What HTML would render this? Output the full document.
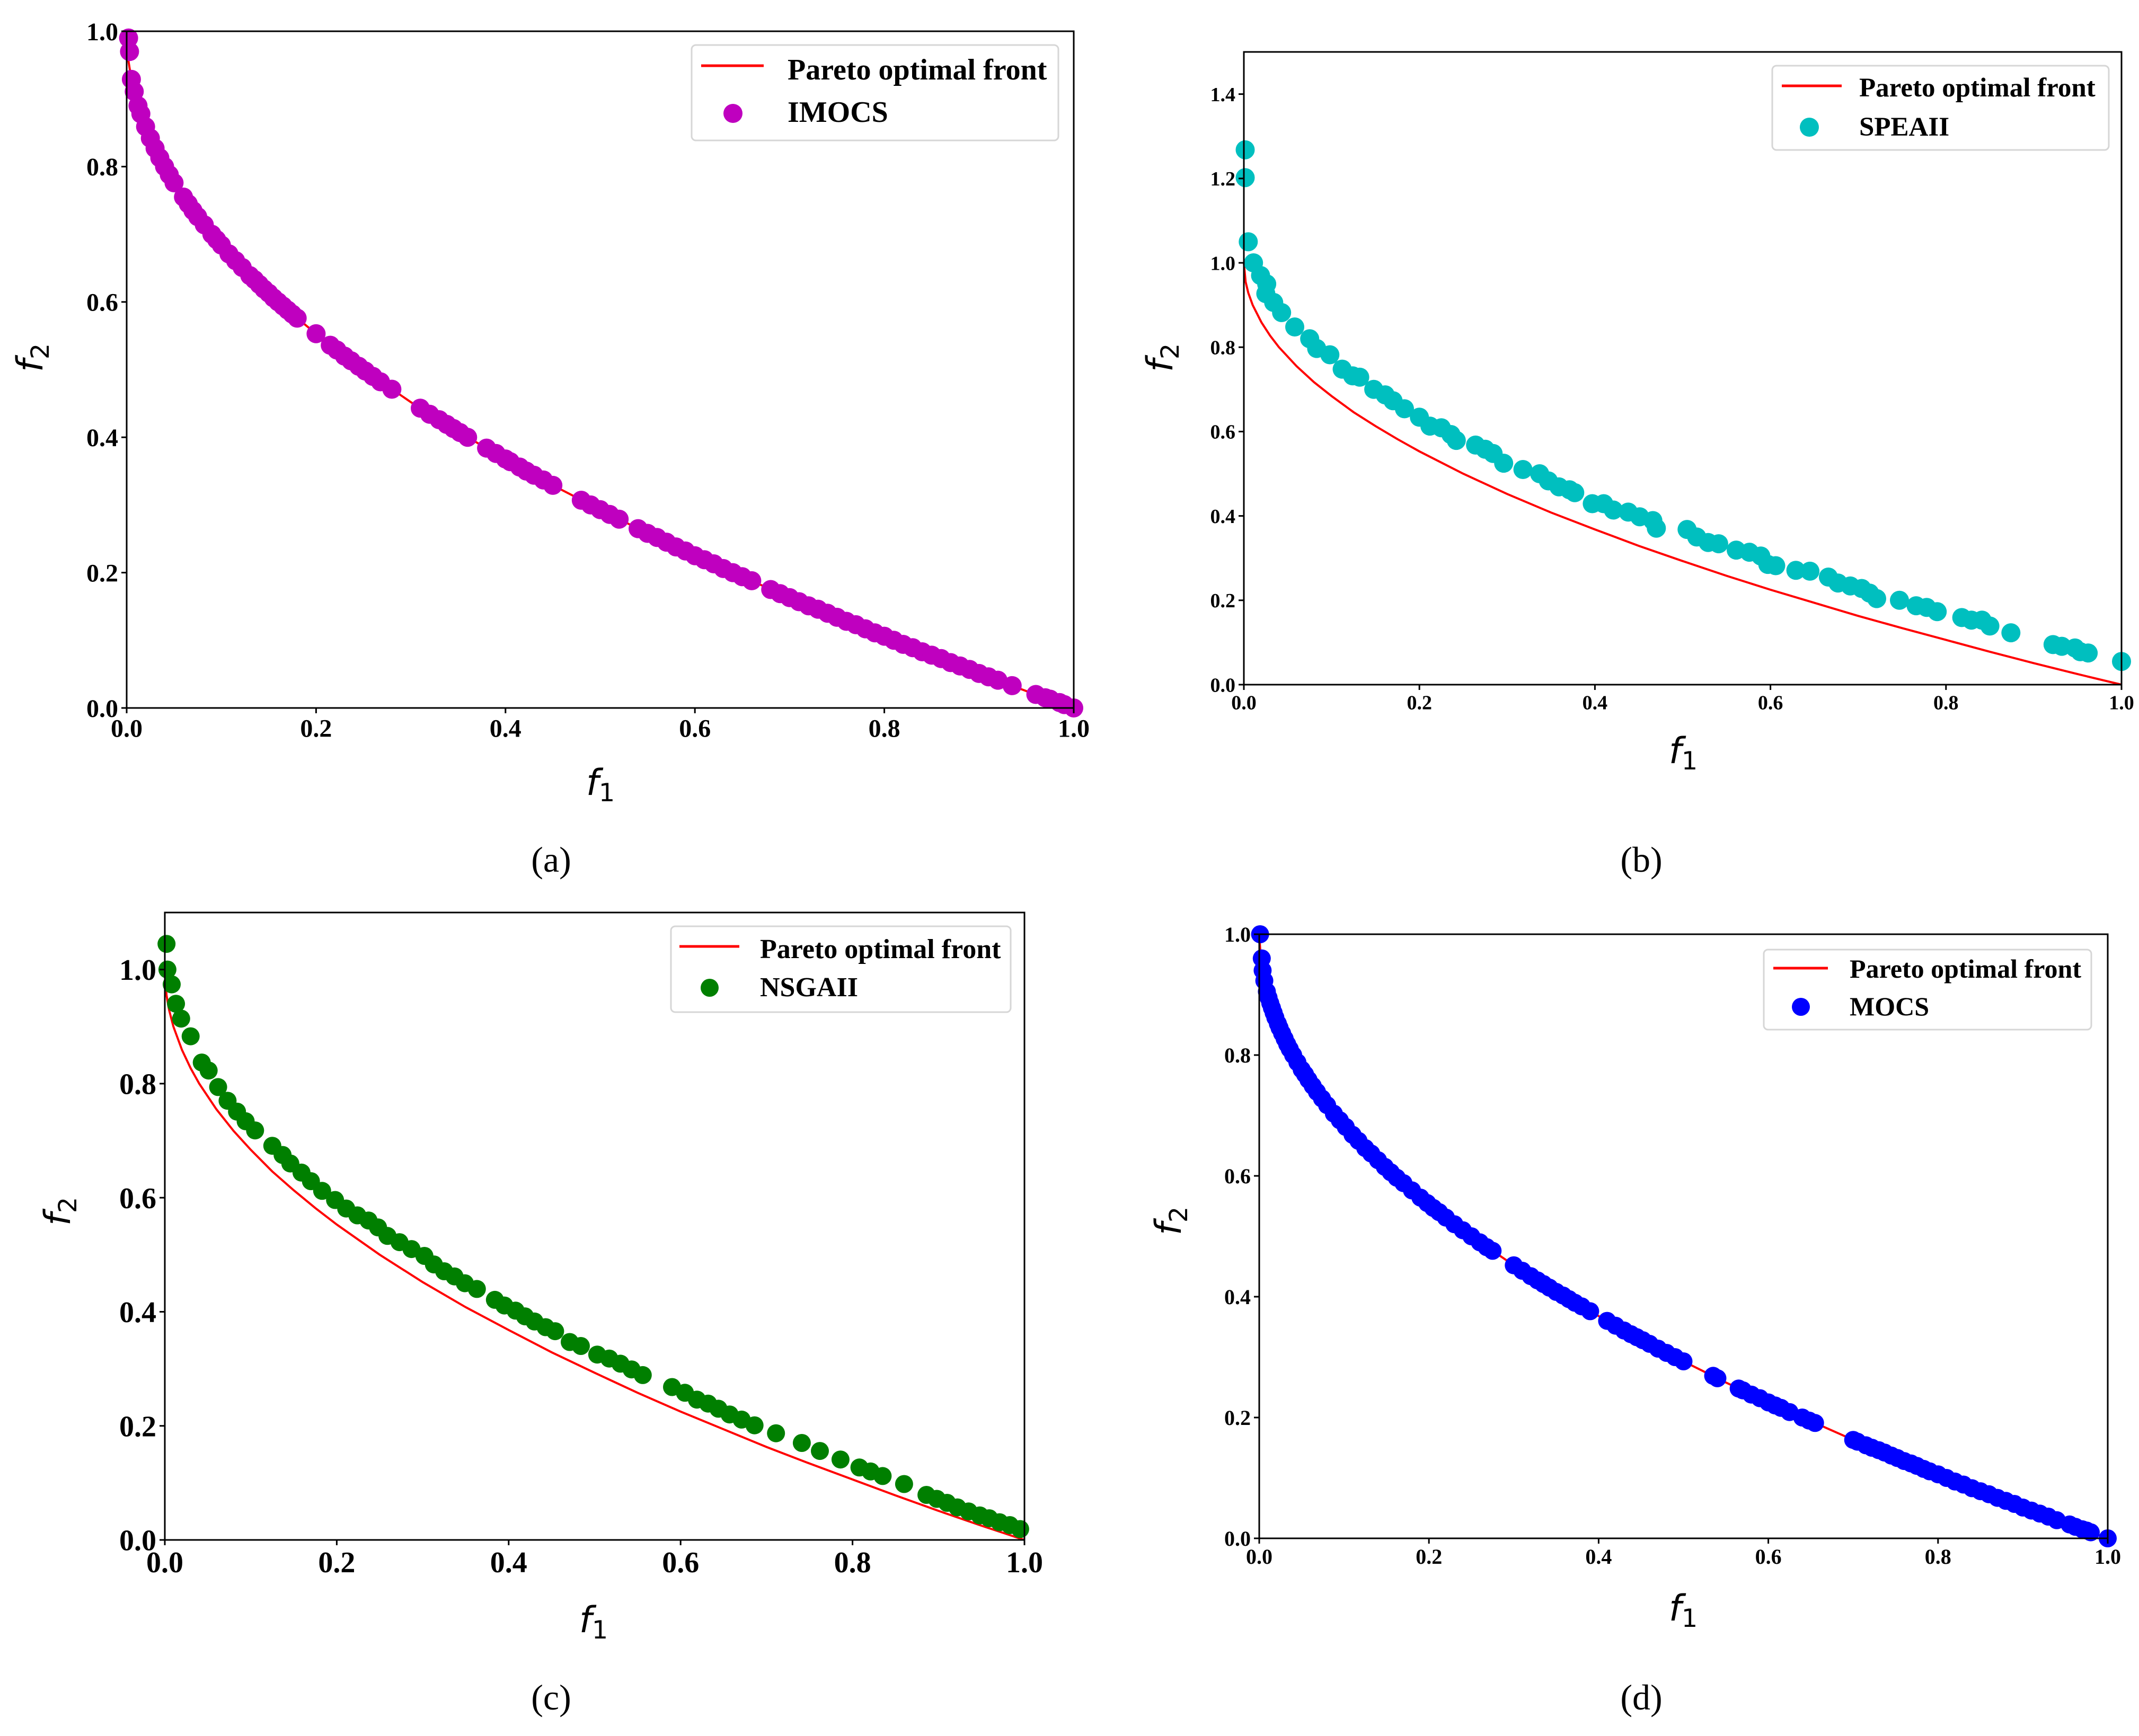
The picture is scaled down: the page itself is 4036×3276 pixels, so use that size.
<!DOCTYPE html>
<html><head><meta charset="utf-8">
<style>
html,body{margin:0;padding:0;background:#fff;}
svg{display:block;}
.tk{font-family:"Liberation Serif",serif;font-weight:bold;fill:#000;}
.lg{font-family:"Liberation Serif",serif;font-weight:bold;fill:#000;}
.ax{font-family:"DejaVu Sans","Liberation Sans",sans-serif;font-style:italic;fill:#000;}
.cap{font-family:"Liberation Serif",serif;fill:#000;}
</style></head>
<body>
<svg id="fig" width="4036" height="3276" viewBox="0 0 4036 3276" xmlns="http://www.w3.org/2000/svg"></svg>
<script>
// Pareto optimal front
const frontX = [0,0.002,0.005,0.01,0.02,0.03,0.04,0.06,0.08,0.1,0.125,0.15,0.175,0.2,0.25,0.3,0.35,0.4,0.45,0.5,0.55,0.6,0.65,0.7,0.75,0.8,0.85,0.9,0.95,1.0];
const frontY = [1,0.955,0.929,0.9,0.859,0.827,0.8,0.755,0.717,0.684,0.646,0.613,0.582,0.553,0.5,0.452,0.408,0.368,0.329,0.293,0.258,0.225,0.194,0.163,0.134,0.106,0.078,0.051,0.025,0];
// IMOCS (a)
const imocsX = [0.002,0.003,0.005,0.008,0.012,0.015,0.02,0.025,0.03,0.04,0.05,0.06,0.065,0.075,0.09,0.1,0.115,0.13,0.14,0.15,0.16,0.17,0.18,0.2,0.215,0.23,0.245,0.26,0.28,0.31,0.33,0.345,0.36,0.38,0.4,0.415,0.43,0.45,0.48,0.5,0.52,0.54,0.56,0.58,0.6,0.62,0.64,0.66,0.68,0.7,0.72,0.74,0.76,0.78,0.8,0.82,0.84,0.86,0.88,0.9,0.92,0.935,0.96,0.975,0.99,1.0,
 0.035,0.045,0.07,0.082,0.095,0.108,0.122,0.135,0.145,0.155,0.165,0.175,0.222,0.237,0.252,0.268,0.32,0.338,0.352,0.39,0.405,0.422,0.44,0.49,0.51,0.55,0.57,0.59,0.61,0.63,0.65,0.69,0.71,0.73,0.75,0.77,0.79,0.81,0.83,0.85,0.87,0.89,0.91,0.97,0.985];
const imocsY = [0.99,0.97,0.929,0.911,0.89,0.878,0.859,0.842,0.827,0.8,0.776,0.755,0.745,0.726,0.7,0.684,0.661,0.639,0.626,0.613,0.6,0.588,0.576,0.553,0.536,0.52,0.505,0.49,0.471,0.443,0.426,0.413,0.4,0.384,0.368,0.356,0.344,0.329,0.307,0.293,0.279,0.265,0.252,0.238,0.225,0.213,0.2,0.188,0.175,0.163,0.151,0.14,0.128,0.117,0.106,0.094,0.083,0.073,0.062,0.051,0.041,0.033,0.02,0.013,0.005,0.0,
 0.813,0.788,0.735,0.714,0.692,0.671,0.651,0.633,0.619,0.606,0.594,0.582,0.529,0.513,0.498,0.482,0.434,0.419,0.407,0.376,0.364,0.35,0.337,0.3,0.286,0.258,0.245,0.232,0.219,0.206,0.194,0.169,0.157,0.146,0.134,0.123,0.111,0.1,0.089,0.078,0.067,0.057,0.046,0.015,0.008];
// SPEAII (b)
const speaX = [0.0015,0.0015,0.005,0.011,0.019,0.026,0.025,0.034,0.043,0.058,0.075,0.083,0.098,0.112,0.124,0.132,0.148,0.161,0.17,0.183,0.2,0.212,0.225,0.236,0.242,0.264,0.275,0.284,0.296,0.318,0.337,0.347,0.359,0.371,0.377,0.397,0.41,0.421,0.438,0.451,0.466,0.47,0.505,0.516,0.529,0.541,0.561,0.576,0.589,0.597,0.606,0.629,0.645,0.666,0.677,0.691,0.704,0.713,0.721,0.747,0.766,0.778,0.79,0.818,0.829,0.841,0.85,0.874,0.922,0.932,0.947,0.953,0.962,1.0];
const speaY = [1.268,1.202,1.05,1.0,0.97,0.95,0.927,0.906,0.882,0.848,0.82,0.797,0.782,0.748,0.732,0.729,0.7,0.687,0.673,0.654,0.634,0.613,0.609,0.593,0.579,0.568,0.558,0.548,0.525,0.51,0.5,0.483,0.469,0.462,0.455,0.429,0.429,0.414,0.409,0.398,0.389,0.371,0.368,0.35,0.337,0.334,0.319,0.314,0.305,0.285,0.282,0.271,0.269,0.255,0.241,0.234,0.228,0.217,0.204,0.2,0.187,0.183,0.173,0.159,0.153,0.153,0.139,0.123,0.095,0.091,0.087,0.078,0.075,0.055];
// NSGAII (c)
const nsgaX = [0.002,0.003,0.008,0.013,0.019,0.03,0.043,0.051,0.062,0.073,0.084,0.094,0.105,0.125,0.137,0.146,0.159,0.17,0.183,0.198,0.211,0.224,0.237,0.248,0.259,0.273,0.287,0.302,0.313,0.325,0.337,0.349,0.363,0.384,0.395,0.408,0.419,0.43,0.443,0.454,0.471,0.484,0.503,0.517,0.53,0.543,0.556,0.59,0.605,0.619,0.632,0.644,0.657,0.671,0.686,0.711,0.741,0.762,0.786,0.808,0.821,0.835,0.86,0.886,0.898,0.91,0.922,0.935,0.948,0.959,0.971,0.983,0.995];
const nsgaY = [1.045,1.0,0.974,0.94,0.914,0.883,0.837,0.823,0.794,0.77,0.751,0.734,0.718,0.691,0.675,0.66,0.644,0.629,0.612,0.596,0.581,0.569,0.56,0.548,0.533,0.522,0.51,0.498,0.483,0.471,0.462,0.45,0.44,0.421,0.411,0.402,0.392,0.383,0.373,0.366,0.347,0.34,0.325,0.318,0.309,0.299,0.289,0.268,0.258,0.246,0.239,0.23,0.22,0.211,0.201,0.187,0.17,0.156,0.141,0.127,0.12,0.112,0.098,0.079,0.072,0.065,0.057,0.05,0.043,0.038,0.031,0.026,0.019];
// MOCS (d)
const mocsX = [0.001,0.003,0.006,0.009,0.013,0.017,0.022,0.027,0.033,0.04,0.05,0.058,0.068,0.08,0.095,0.11,0.125,0.14,0.155,0.17,0.19,0.205,0.22,0.24,0.26,0.275,0.3,0.32,0.335,0.35,0.365,0.38,0.41,0.43,0.445,0.46,0.48,0.5,0.535,0.565,0.58,0.6,0.615,0.64,0.655,0.7,0.715,0.73,0.745,0.76,0.775,0.79,0.81,0.83,0.85,0.87,0.89,0.91,0.93,0.955,0.97,1.0,
 0.004,0.011,0.015,0.019,0.024,0.03,0.036,0.045,0.054,0.063,0.074,0.088,0.102,0.117,0.132,0.148,0.162,0.18,0.198,0.212,0.23,0.25,0.268,0.31,0.328,0.342,0.358,0.372,0.39,0.42,0.438,0.452,0.47,0.49,0.54,0.57,0.59,0.608,0.625,0.648,0.705,0.722,0.737,0.752,0.768,0.783,0.8,0.82,0.84,0.86,0.88,0.9,0.92,0.94,0.962,0.975,0.98];
const mocsY = [1.0,0.96,0.923,0.905,0.886,0.87,0.852,0.836,0.818,0.8,0.776,0.759,0.739,0.717,0.692,0.668,0.646,0.626,0.606,0.588,0.564,0.547,0.531,0.51,0.49,0.476,0.452,0.434,0.421,0.408,0.396,0.384,0.36,0.344,0.333,0.322,0.307,0.293,0.269,0.248,0.238,0.225,0.216,0.2,0.191,0.163,0.154,0.146,0.137,0.128,0.12,0.111,0.1,0.089,0.078,0.067,0.057,0.046,0.036,0.023,0.015,0.0,
 0.94,0.895,0.878,0.862,0.845,0.827,0.81,0.788,0.768,0.749,0.728,0.703,0.681,0.658,0.637,0.615,0.597,0.576,0.555,0.54,0.52,0.5,0.482,0.443,0.427,0.415,0.402,0.39,0.376,0.352,0.338,0.328,0.314,0.3,0.265,0.245,0.232,0.22,0.209,0.195,0.16,0.15,0.142,0.133,0.124,0.115,0.106,0.094,0.083,0.073,0.062,0.051,0.041,0.03,0.019,0.013,0.01];

const ticksX = ["0.0","0.2","0.4","0.6","0.8","1.0"];
const ticksYa = ["0.0","0.2","0.4","0.6","0.8","1.0"];
const ticksYb = ["0.0","0.2","0.4","0.6","0.8","1.0","1.2","1.4"];

const NS = "http://www.w3.org/2000/svg";
const fig = document.getElementById('fig');
function mk(tag, attrs, parent){const e=document.createElementNS(NS,tag);for(const k in attrs)e.setAttribute(k,attrs[k]);(parent||fig).appendChild(e);return e;}

const panels = [
 {id:'a',L:239,R:2026,T:59,B:1336,ymax:1.0,yt:ticksYa,tf:48,tfy:48,xs:imocsX,ys:imocsY,col:'#bf00bf',r:18,name:'IMOCS',
  leg:[1305,85,692,180],legLine:[1323,1441,124],legText:[1486,150],legMk:[1383,214],legName:[1486,230],lf:56,
  f1:[1133,1500],f2:[80,675],cap:[1040,1645],af:68},
 {id:'b',L:2347,R:4003,T:98,B:1292,ymax:1.5,yt:ticksYb,tf:38,tfy:38,xs:speaX,ys:speaY,col:'#00bfbf',r:18,name:'SPEAII',
  leg:[3344,124,635,159],legLine:[3362,3475,162],legText:[3508,182],legMk:[3414,240],legName:[3508,256],lf:51,
  f1:[3176,1440],f2:[2212,675],cap:[3097,1645],af:68},
 {id:'c',L:311,R:1933,T:1722,B:2906,ymax:1.1,yt:ticksYa,tf:56,tfy:56,xs:nsgaX,ys:nsgaY,col:'#007f00',r:17,name:'NSGAII',
  leg:[1266,1748,641,162],legLine:[1282,1395,1786],legText:[1434,1808],legMk:[1339,1864],legName:[1434,1880],lf:52,
  f1:[1120,3080],f2:[132,2286],cap:[1040,3226],af:68},
 {id:'d',L:2376,R:3977,T:1763,B:2903,ymax:1.0,yt:ticksYa,tf:40,tfy:40,xs:mocsX,ys:mocsY,col:'#0000ff',r:17,name:'MOCS',
  leg:[3328,1792,618,151],legLine:[3346,3449,1827],legText:[3490,1845],legMk:[3398,1900],legName:[3490,1916],lf:50,
  f1:[3176,3058],f2:[2228,2304],cap:[3097,3226],af:68}
];

panels.forEach(p=>{
  const g = mk('g',{});
  
  
  const sx = v => p.L + v*(p.R-p.L);
  const sy = v => p.B - v/p.ymax*(p.B-p.T);
  let d='';
  frontX.forEach((x,i)=>{d+=(i?'L':'M')+sx(x).toFixed(1)+' '+sy(frontY[i]).toFixed(1);});
  const line = mk('path',{d:d,fill:'none',stroke:'#ff0000','stroke-width':4},g);
  
  
  const pg = mk('g',{fill:p.col},g);
  
  
  p.xs.forEach((x,i)=>{
    const c = mk('circle',{cx:sx(x).toFixed(1),cy:sy(p.ys[i]).toFixed(1),r:p.r},pg);
    
    
  });
  const fr = mk('rect',{x:p.L,y:p.T,width:p.R-p.L,height:p.B-p.T,fill:'none',stroke:'#000','stroke-width':3},g);
  
  
  ticksX.forEach(t=>{
    const x=sx(parseFloat(t));
    mk('line',{x1:x,x2:x,y1:p.B,y2:p.B+10,stroke:'#000','stroke-width':3},g);
    const tx=mk('text',{x:x,y:p.B+16+p.tf*0.8,'text-anchor':'middle','font-size':p.tf,class:'tk'},g);
    tx.textContent=t;
    
    
  });
  p.yt.forEach(t=>{
    const y=sy(parseFloat(t));
    mk('line',{x1:p.L-10,x2:p.L,y1:y,y2:y,stroke:'#000','stroke-width':3},g);
    const tx=mk('text',{x:p.L-16,y:y+p.tfy*0.35,'text-anchor':'end','font-size':p.tfy,class:'tk'},g);
    tx.textContent=t;
    
    
  });
  const f1=mk('text',{x:p.f1[0],y:p.f1[1],'text-anchor':'middle','font-size':p.af,class:'ax'},g);
  f1.innerHTML='f<tspan font-style="normal" font-size="'+(p.af*0.7)+'" dy="12">1</tspan>';
  
  
  const f2=mk('text',{x:0,y:0,'text-anchor':'middle','font-size':p.af,class:'ax',transform:'translate('+p.f2[0]+','+p.f2[1]+') rotate(-90)'},g);
  f2.innerHTML='f<tspan font-style="normal" font-size="'+(p.af*0.7)+'" dy="12">2</tspan>';
  
  
  const lg=mk('g',{},g);
  
  
  mk('rect',{x:p.leg[0],y:p.leg[1],width:p.leg[2],height:p.leg[3],rx:8,fill:'#fff',stroke:'#d6d6d6','stroke-width':3},lg);
  mk('line',{x1:p.legLine[0],x2:p.legLine[1],y1:p.legLine[2],y2:p.legLine[2],stroke:'#ff0000','stroke-width':5},lg);
  const t1=mk('text',{x:p.legText[0],y:p.legText[1],'font-size':p.lf,class:'lg'},lg);
  t1.textContent='Pareto optimal front';
  
  
  mk('circle',{cx:p.legMk[0],cy:p.legMk[1],r:p.r,fill:p.col},lg);
  const t2=mk('text',{x:p.legName[0],y:p.legName[1],'font-size':p.lf,class:'lg'},lg);
  t2.textContent=p.name;
  
  
  const cp=mk('text',{x:p.cap[0],y:p.cap[1],'text-anchor':'middle','font-size':p.af,class:'cap'},g);
  cp.textContent='('+p.id+')';
  
  
});
</script>
</body></html>
